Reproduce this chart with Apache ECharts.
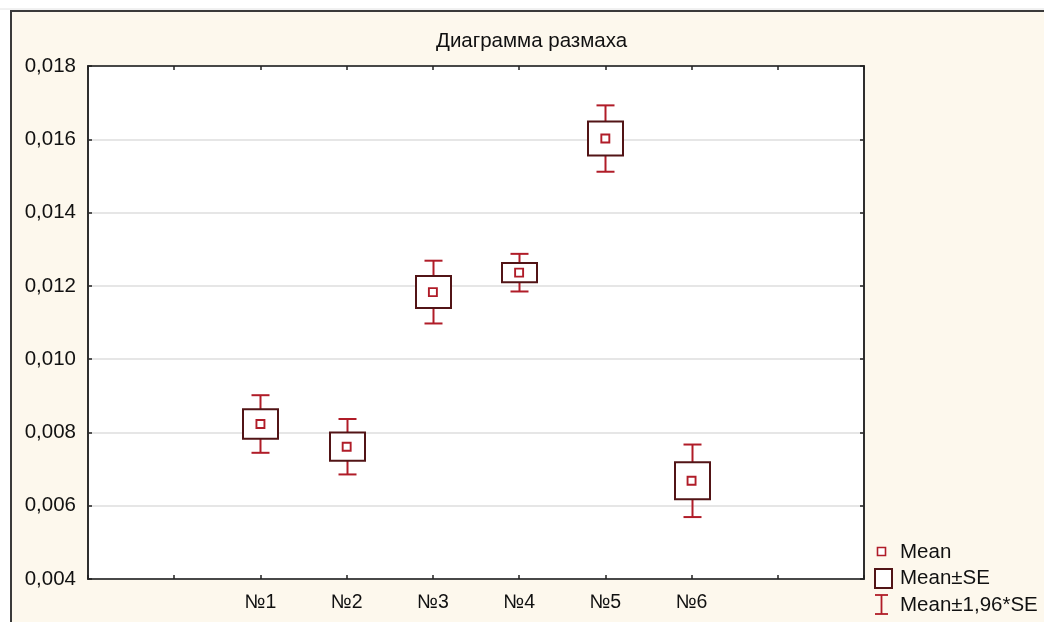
<!DOCTYPE html>
<html>
<head>
<meta charset="utf-8">
<script src="https://cdn.jsdelivr.net/npm/echarts@6/dist/echarts.min.js"></script>
<style>
  html, body { margin: 0; padding: 0; background: #ffffff; }
  #chart { width: 1044px; height: 622px; }
</style>
</head>
<body>
<div id="chart"></div>
<script>
// Range plot: mean, ±SE box and ±1,96*SE whiskers per sample
const categories = ['№1', '№2', '№3', '№4', '№5', '№6'];
const means = [0.00823, 0.00761, 0.01183, 0.01236, 0.01602, 0.00668];
const standardErrors = [0.000401, 0.000386, 0.000437, 0.000262, 0.000462, 0.000505];
const Z = 1.96;
const yMin = 0.004, yMax = 0.018, yStep = 0.002;
const xSlots = 9;          // value-axis extent for category slots
const leadSlots = 2;       // empty slots before the first category

const RED = '#b01c28';
const MAROON = '#521416';
const FONT = '"Liberation Sans", Arial, sans-serif';
const TEXT_SIZE = 20.5;

const boxData = means.map((m, i) => [i + leadSlots, m - standardErrors[i], m + standardErrors[i]]);
const whiskerData = means.map((m, i) => [i + leadSlots, m - Z * standardErrors[i], m + Z * standardErrors[i]]);
const meanData = means.map((m, i) => [i + leadSlots, m]);

const chart = echarts.init(document.getElementById('chart'), null, { renderer: 'canvas' });

const fmtY = v => v.toFixed(3).replace('.', ',');
const fmtX = v => categories[Math.round(v) - leadSlots] || '';

const tickCommon = { show: true, inside: true, length: 4, lineStyle: { color: '#222', width: 1.5 } };
const legendFont = TEXT_SIZE + 'px ' + FONT;

chart.setOption({
  backgroundColor: 'transparent',
  animation: false,
  graphic: [
    // framed figure background
    { type: 'rect', z: -10, silent: true,
      shape: { x: 11, y: 11, width: 1100, height: 700 },
      style: { fill: '#fdf8ed', stroke: '#3a3a3a', lineWidth: 2 } },
    { type: 'line', z: -10, silent: true,
      shape: { x1: 0, y1: 9, x2: 1044, y2: 9 },
      style: { stroke: '#e2e2e2', lineWidth: 1 } },
    // legend
    { type: 'rect', shape: { x: 877.5, y: 547.5, width: 8, height: 8 },
      style: { fill: '#fff', stroke: RED, lineWidth: 1.6 } },
    { type: 'text', style: { x: 900, y: 552, text: 'Mean', font: legendFont, fill: '#111', verticalAlign: 'middle' } },
    { type: 'rect', shape: { x: 875, y: 569, width: 17, height: 19 },
      style: { fill: '#fff', stroke: MAROON, lineWidth: 2 } },
    { type: 'text', style: { x: 900, y: 578, text: 'Mean±SE', font: legendFont, fill: '#111', verticalAlign: 'middle' } },
    { type: 'group', children: [
      { type: 'line', shape: { x1: 875, y1: 595, x2: 888, y2: 595 }, style: { stroke: RED, lineWidth: 1.8 } },
      { type: 'line', shape: { x1: 881.5, y1: 595, x2: 881.5, y2: 614 }, style: { stroke: RED, lineWidth: 1.8 } },
      { type: 'line', shape: { x1: 875, y1: 614, x2: 888, y2: 614 }, style: { stroke: RED, lineWidth: 1.8 } }
    ] },
    { type: 'text', style: { x: 900, y: 605, text: 'Mean±1,96*SE', font: legendFont, fill: '#111', verticalAlign: 'middle' } }
  ],
  title: {
    text: 'Диаграмма размаха',
    left: 436, top: 31, padding: 0,
    textStyle: { fontFamily: FONT, fontSize: TEXT_SIZE, fontWeight: 'normal', color: '#111' }
  },
  grid: {
    left: 88, top: 66, right: 180, bottom: 43,
    show: true, backgroundColor: '#ffffff', borderColor: '#222', borderWidth: 1.5
  },
  xAxis: [
    { type: 'value', position: 'bottom', min: 0, max: xSlots, interval: 1,
      axisLine: { show: true, onZero: false, lineStyle: { color: '#222', width: 1.5 } },
      axisTick: tickCommon,
      splitLine: { show: false },
      axisLabel: { formatter: fmtX, margin: 14, fontFamily: FONT, fontSize: 19.5, color: '#111',
                   showMinLabel: true, showMaxLabel: true } },
    { type: 'value', position: 'top', min: 0, max: xSlots, interval: 1,
      axisLine: { show: true, onZero: false, lineStyle: { color: '#222', width: 1.5 } },
      axisTick: tickCommon, axisLabel: { show: false }, splitLine: { show: false } }
  ],
  yAxis: [
    { type: 'value', position: 'left', min: yMin, max: yMax, interval: yStep,
      axisLine: { show: true, onZero: false, lineStyle: { color: '#222', width: 1.5 } },
      axisTick: tickCommon,
      splitLine: { show: true, lineStyle: { color: '#dedede', width: 1.5 } },
      axisLabel: { formatter: fmtY, margin: 12, fontFamily: FONT, fontSize: TEXT_SIZE, color: '#111' } },
    { type: 'value', position: 'right', min: yMin, max: yMax, interval: yStep,
      axisLine: { show: true, onZero: false, lineStyle: { color: '#222', width: 1.5 } },
      axisTick: tickCommon, axisLabel: { show: false }, splitLine: { show: false } }
  ],
  series: [
    { name: 'Mean±1,96*SE', type: 'custom', data: whiskerData, z: 2,
      renderItem: (params, api) => {
        const lo = api.coord([api.value(0), api.value(1)]);
        const hi = api.coord([api.value(0), api.value(2)]);
        const x = Math.round(lo[0]) + 0.5, cap = 9;
        const st = { stroke: RED, lineWidth: 2 };
        return { type: 'group', children: [
          { type: 'line', shape: { x1: x, y1: lo[1], x2: x, y2: hi[1] }, style: st },
          { type: 'line', shape: { x1: x - cap, y1: lo[1], x2: x + cap, y2: lo[1] }, style: st },
          { type: 'line', shape: { x1: x - cap, y1: hi[1], x2: x + cap, y2: hi[1] }, style: st }
        ] };
      } },
    { name: 'Mean±SE', type: 'custom', data: boxData, z: 3,
      renderItem: (params, api) => {
        const lo = api.coord([api.value(0), api.value(1)]);
        const hi = api.coord([api.value(0), api.value(2)]);
        const x = Math.round(lo[0]) + 0.5, half = 17.5;
        return { type: 'rect',
          shape: { x: x - half, y: hi[1], width: half * 2, height: lo[1] - hi[1] },
          style: { fill: '#ffffff', stroke: MAROON, lineWidth: 2 } };
      } },
    { name: 'Mean', type: 'scatter', data: meanData, z: 4,
      symbol: 'rect', symbolSize: 8,
      itemStyle: { color: '#ffffff', borderColor: RED, borderWidth: 1.9, opacity: 1 } }
  ]
});
</script>
</body>
</html>
